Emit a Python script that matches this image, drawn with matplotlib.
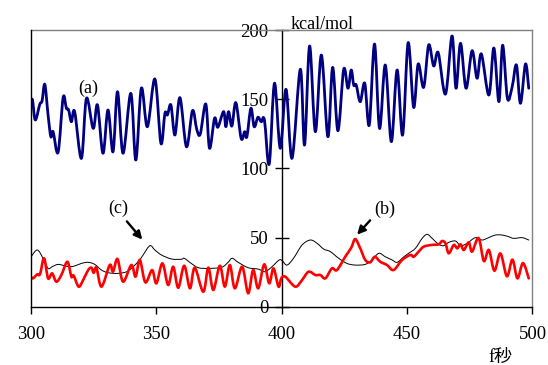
import matplotlib
matplotlib.use('Agg')
import matplotlib.pyplot as plt
from matplotlib.path import Path
from matplotlib.patches import PathPatch

plt.rcParams['font.family'] = ['Liberation Serif', 'Noto Sans CJK JP']

# ─── data ─────────────────────────────────────────────────────────────────────

x_ticks = [300, 350, 400, 450, 500]
y_ticks = [0, 50, 100, 150, 200]

# (a) blue
a_x = [300.0, 300.6, 301.7, 303.5, 304.4, 305.5, 306.8, 307.9, 308.8, 310.8,
       312.8, 314.1, 315.0, 316.1, 317.4, 320.1, 322.1, 324.8, 326.5, 328.7,
       330.7, 332.7, 334.5, 336.7, 339.8, 341.8, 344.0, 346.4, 349.4, 351.8,
       353.4, 354.4, 355.8, 357.4, 359.4, 362.0, 364.4, 366.1, 367.5, 369.7,
       371.2, 373.2, 374.5, 376.8, 377.7, 378.8, 380.1, 381.7, 383.8, 385.2,
       386.1, 387.7, 389.0, 390.5, 391.8, 393.1, 395.0, 397.1, 399.4, 401.7,
       404.1, 407.4, 409.1, 411.1, 413.4, 415.8, 418.4, 420.3, 422.4, 424.7,
       426.4, 427.7, 428.7, 429.7, 431.3, 433.1, 434.9, 437.0, 439.0, 441.3,
       443.7, 446.0, 448.2, 450.4, 452.6, 454.4, 456.6, 458.6, 460.6, 462.4,
       465.3, 467.9, 469.5, 471.3, 473.5, 475.9, 477.9, 479.6, 482.6, 484.6,
       486.6, 488.1, 490.0, 491.9, 493.6, 495.2, 497.2, 498.5]
a_y = [148, 149.4, 135, 146.3, 148.7, 160.7, 138.6, 122.9, 126.5, 111.6,
       151.1, 143.4, 142.2, 133.7, 141, 107.2, 150.6, 128.9, 145.8, 110.9,
       142.2, 112, 155.4, 110.9, 154.2, 106, 157.9, 130.1, 164.6, 118.1,
       139.8, 138.6, 145.8, 124.1, 151.1, 115.6, 141.7, 128.2, 124.8, 146.5,
       114.5, 136.2, 129.7, 141, 130.1, 141, 130.6, 147.5, 121.7, 126.5,
       122.9, 143.4, 130.1, 136.9, 133.7, 134.9, 103.1, 161.5, 114.5, 157.1,
       107.3, 171.6, 116.9, 188.4, 126.5, 181.9, 122.9, 173, 127.2, 171.6,
       157.9, 171.1, 160.2, 160.2, 148.2, 161.5, 131.3, 189.9, 128.9, 174.7,
       119.3, 171.1, 124.1, 190.8, 144.1, 175.4, 158.6, 189.2, 174, 183.6,
       153.7, 195.7, 157.9, 190.4, 157.9, 185, 165.1, 182.7, 153, 187,
       148.2, 189, 150.6, 159, 174.7, 147, 175.4, 157.9]

# (b) red
b_x = [300.0, 300.8, 302.5, 303.6, 305.2, 306.8, 308.4, 310.1, 312.1, 314.5,
       316.1, 317.0, 319.0, 320.8, 322.8, 324.1, 325.0, 326.1, 328.1, 331.4,
       332.7, 334.5, 336.7, 340.0, 341.7, 343.4, 345.6, 348.3, 350.0, 352.4,
       354.7, 356.7, 358.7, 361.1, 363.4, 365.3, 368.7, 370.7, 372.7, 375.3,
       377.3, 379.3, 381.3, 384.2, 386.6, 388.6, 390.6, 393.0, 395.0, 396.7,
       398.7, 399.8, 401.4, 405.4, 408.1, 410.7, 413.4, 415.4, 417.4, 420.0,
       422.0, 425.3, 427.7, 429.3, 431.3, 433.3, 435.3, 437.1, 439.3, 442.0,
       444.6, 448.0, 451.3, 452.6, 454.6, 456.6, 459.6, 462.6, 464.0, 465.3,
       466.6, 468.6, 470.0, 471.3, 472.6, 474.6, 475.9, 478.5, 480.6, 482.6,
       484.8, 487.2, 489.8, 492.0, 494.0, 496.2, 498.5]
b_y = [21.7, 20.5, 23.4, 23.5, 35, 20.5, 24.1, 18.1, 22.9, 32.5,
       21.7, 22.5, 14.5, 19.3, 26.5, 28.2, 24.5, 28.2, 14.5, 30.1,
       25.3, 34.5, 18.1, 30.1, 21.7, 33.8, 17.6, 26.5, 16.9, 31.3,
       15.7, 28.9, 13.7, 29.6, 13.3, 28.2, 10.8, 28.2, 12.1, 29.6,
       14.5, 30.1, 13.3, 28.9, 9.7, 26.5, 13.3, 30.6, 16.9, 27.7,
       14.5, 20.5, 21.7, 14.5, 19.3, 25.3, 22.9, 22.9, 20.5, 27.7,
       26.5, 36.1, 42.6, 48.9, 42.2, 33.8, 32.1, 36.1, 32.5, 30.1,
       26.5, 33.8, 37.4, 36.1, 39.8, 43.4, 44.6, 45.1, 47.5, 45.8,
       38.6, 44.6, 42.2, 45.1, 41, 46.5, 39.8, 49.6, 33, 41,
       26, 38.5, 22, 34, 20.5, 31.5, 20.5]

# (c) black
c_x = [300.0, 302.5, 304.8, 306.8, 308.5, 310.8, 313.4, 315.4, 317.5, 320.1,
       322.8, 325.4, 328.1, 330.7, 334.7, 338.7, 342.7, 344.7, 347.4, 349.4,
       352.0, 356.0, 360.0, 361.1, 363.9, 366.7, 370.7, 376.0, 378.6, 380.2,
       382.6, 386.6, 390.6, 393.3, 396.1, 399.0, 400.3, 402.1, 404.7, 408.1,
       411.4, 414.1, 416.7, 419.4, 422.7, 426.0, 429.3, 433.3, 436.0, 438.7,
       441.3, 444.0, 446.0, 448.7, 450.6, 453.3, 456.0, 458.0, 460.0, 462.6,
       464.6, 466.6, 469.3, 471.3, 473.9, 477.2, 479.9, 482.5, 485.2, 487.9,
       490.5, 492.5, 495.9, 498.5]
c_y = [36.1, 41, 35, 27.7, 29, 30.6, 29.6, 28.9, 29.5, 31.3,
       32.1, 30.6, 26.5, 24.6, 24.1, 25.8, 32.5, 37.4, 44.1, 41,
       37.4, 34.5, 34.3, 35, 31.3, 28.2, 27.7, 28.5, 32.1, 35,
       32.1, 28.2, 27.2, 25.3, 28.9, 33.8, 33, 30.1, 35, 44.6,
       48.2, 45.8, 41.7, 39.8, 35, 31.3, 30.1, 30.6, 33.8, 38.6,
       36.1, 33.8, 32.1, 36.1, 38.6, 42.2, 49.4, 52.3, 49.4, 45.1,
       44.1, 46.5, 47.5, 44.1, 45.8, 49.9, 48.2, 49.9, 51.8, 51.8,
       50.6, 49.4, 49.9, 48.2]

# ─── helpers ──────────────────────────────────────────────────────────────────

def smooth_line(ax, xs, ys, **kw):
    # smoothed line (like a spreadsheet "smoothed line"): bezier segments through the points
    n = len(xs)
    verts = [(xs[0], ys[0])]
    codes = [Path.MOVETO]
    for i in range(n - 1):
        x0, y0 = xs[max(i - 1, 0)], ys[max(i - 1, 0)]
        x1, y1 = xs[i], ys[i]
        x2, y2 = xs[i + 1], ys[i + 1]
        x3, y3 = xs[min(i + 2, n - 1)], ys[min(i + 2, n - 1)]
        verts += [(x1 + (x2 - x0) / 6, y1 + (y2 - y0) / 6),
                  (x2 - (x3 - x1) / 6, y2 - (y3 - y1) / 6),
                  (x2, y2)]
        codes += [Path.CURVE4] * 3
    ax.add_patch(PathPatch(Path(verts, codes), fill=False, capstyle='round',
                           joinstyle='round', **kw))

# ─── figure ───────────────────────────────────────────────────────────────────

fig = plt.figure(figsize=(5.48, 3.65), dpi=100)
ax = fig.add_axes([0.0566, 0.1597, 0.9151, 0.7581])

smooth_line(ax, c_x, c_y, edgecolor='black', linewidth=0.7, zorder=3)
smooth_line(ax, b_x, b_y, edgecolor='#FF0000', linewidth=1.9, zorder=4)
smooth_line(ax, a_x, a_y, edgecolor='#000080', linewidth=2.0, zorder=5)

ax.set_xlim(300, 500)
ax.set_ylim(0, 200)
ax.set_xticks(x_ticks)
ax.set_yticks(y_ticks)

# y axis sits at x = 400, frame around the plot area
ax.spines['left'].set_position(('data', 400))
ax.spines['left'].set_linewidth(1.0)
ax.spines['bottom'].set_linewidth(1.0)
for s in ['top', 'right']:
    ax.spines[s].set_color('#808080')
    ax.spines[s].set_linewidth(1.0)
ax.axvline(300, color='black', linewidth=1.0, clip_on=False, zorder=6)

ax.tick_params(axis='y', direction='inout', length=9.5, width=1, labelsize=13.5, pad=5)
ax.tick_params(axis='x', direction='out', length=5, width=1, labelsize=13.5, pad=9)

ax.text(403.4, 200.6, 'kcal/mol', ha='left', va='baseline', fontsize=13)
fig.text(500 / 548, 16 / 365, 'f秒', ha='center', va='top', fontsize=13)

# labels and arrows
ax.text(323, 158, '(a)', ha='center', va='center', fontsize=13)
ax.text(334.9, 71, '(c)', ha='center', va='center', fontsize=13)
ax.text(440.9, 70.6, '(b)', ha='center', va='center', fontsize=13)
arrow = dict(arrowstyle='-|>', color='black', lw=1.7, mutation_scale=12)
ax.annotate('', xy=(345.1, 47), xytext=(337.5, 63.2), arrowprops=arrow)
ax.annotate('', xy=(429.3, 50.6), xytext=(436, 63.9), arrowprops=arrow)

plt.savefig('out.png', dpi=100)
plt.close()
